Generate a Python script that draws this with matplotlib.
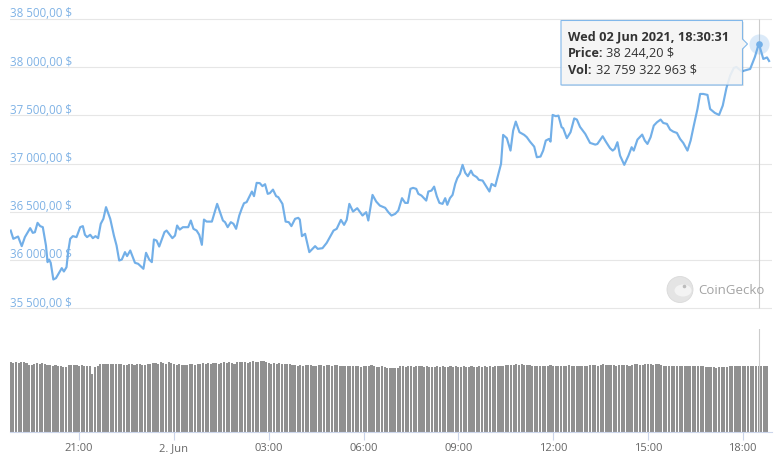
import matplotlib.pyplot as plt
import numpy as np
from matplotlib.patches import Polygon, Circle, Ellipse
from matplotlib.transforms import blended_transform_factory

plt.rcParams['font.family'] = ['Open Sans', 'DejaVu Sans']

W, H = 784, 477

# minutes after 1 Jun 2021 18:50
price_min = [
    0, 5, 14, 21, 27, 37, 42, 46, 51, 56,
    61, 67, 70, 73, 76, 81, 86, 97, 101, 106,
    109, 113, 118, 125, 132, 137, 141, 145, 151, 156,
    161, 166, 171, 176, 181, 189, 196, 201, 206, 211,
    217, 221, 227, 236, 242, 252, 257, 263, 268, 272,
    277, 282, 292, 296, 307, 312, 316, 321, 327, 337,
    342, 347, 353, 358, 363, 367, 372, 382, 392, 403,
    407, 412, 418, 423, 428, 434, 439, 443, 448, 458,
    462, 467, 473, 478, 483, 488, 492, 498, 504, 508,
    516, 522, 528, 533, 540, 546, 549, 553, 559, 567,
    578, 583, 592, 600, 606, 613, 619, 627, 633, 638,
    643, 650, 658, 668, 675, 679, 687, 694, 701, 711,
    717, 723, 730, 736, 743, 749, 754, 759, 764, 770,
    774, 780, 789, 793, 799, 804, 809, 814, 820, 825,
    829, 834, 839, 844, 848, 853, 858, 863, 868, 874,
    878, 885, 889, 896, 902, 909, 913, 920, 926, 931,
    935, 942, 949, 954, 959, 966, 975, 980, 986, 994,
    999, 1006, 1011, 1016, 1022, 1025, 1029, 1035, 1040, 1046,
    1049, 1056, 1063, 1070, 1075, 1081, 1091, 1100, 1110, 1114,
    1124, 1130, 1138, 1143, 1147, 1152, 1157, 1165, 1173, 1179,
    1183, 1190, 1199, 1204, 1209, 1215, 1221, 1227, 1234, 1239,
    1246, 1252, 1258, 1265, 1271, 1277, 1285, 1291, 1297, 1304,
    1309, 1315, 1323, 1328, 1337, 1345, 1352, 1359, 1366, 1373,
    1378, 1388, 1394, 1404, 1413, 1420.5, 1429, 1436, 1440,
]
price_usd = [
    36304, 36218, 36242, 36142, 36236, 36329, 36280, 36287, 36384, 36350,
    36339, 36148, 35976, 36003, 35969, 35796, 35810, 35914, 35879, 35924,
    36080, 36218, 36246, 36236, 36339, 36350, 36260, 36236, 36260, 36225,
    36246, 36225, 36374, 36426, 36547, 36426, 36252, 36149, 35993, 36003,
    36080, 36039, 36097, 35969, 35959, 35907, 36073, 36003, 35976, 36211,
    36200, 36138, 36288, 36304, 36225, 36252, 36356, 36314, 36339, 36339,
    36408, 36322, 36304, 36260, 36156, 36418, 36397, 36397, 36581, 36408,
    36391, 36339, 36391, 36374, 36322, 36460, 36536, 36588, 36599, 36709,
    36661, 36799, 36796, 36765, 36785, 36685, 36692, 36729, 36661, 36651,
    36581, 36397, 36391, 36350, 36426, 36436, 36418, 36246, 36270, 36080,
    36142, 36114, 36121, 36176, 36236, 36304, 36322, 36415, 36363, 36415,
    36581, 36501, 36536, 36460, 36495, 36408, 36674, 36605, 36563, 36540,
    36495, 36460, 36477, 36512, 36640, 36591, 36591, 36737, 36747, 36737,
    36685, 36667, 36615, 36709, 36719, 36760, 36661, 36591, 36581, 36640,
    36571, 36640, 36674, 36788, 36848, 36892, 36986, 36903, 36868, 36926,
    36882, 36858, 36830, 36823, 36771, 36709, 36788, 36765, 36892, 36996,
    37297, 37263, 37134, 37341, 37435, 37325, 37297, 37273, 37227, 37175,
    37065, 37072, 37134, 37238, 37255, 37227, 37504, 37491, 37497, 37377,
    37366, 37263, 37325, 37468, 37456, 37380, 37307, 37214, 37196, 37203,
    37283, 37227, 37159, 37134, 37152, 37221, 37082, 36986, 37082, 37169,
    37134, 37248, 37300, 37238, 37203, 37273, 37393, 37428, 37456, 37421,
    37411, 37352, 37331, 37317, 37255, 37214, 37134, 37238, 37393, 37566,
    37722, 37722, 37712, 37566, 37525, 37504, 37601, 37784, 37912, 37992,
    38002, 37955, 37966, 37981, 38106, 38244.2, 38085, 38101, 38064,
]

# 24h volume, billions $, one bar every 5 minutes
vol_bn = [
    34.7, 34.4, 34.7, 34.2, 34.5, 34.6, 34.3, 33.2, 33.3, 34.0, 34.2, 33.9,
    34.1, 33.6, 33.5, 33.2, 33.0, 33.3, 32.8, 32.6, 32.4, 32.4, 33.2, 33.1,
    33.2, 33.4, 33.0, 33.3, 32.8, 32.6, 32.7, 28.8, 32.5, 32.9, 33.7, 33.8,
    33.7, 33.8, 33.7, 33.6, 33.8, 33.7, 33.8, 33.5, 33.2, 33.6, 33.7, 33.5,
    33.6, 33.7, 33.5, 33.3, 33.6, 33.8, 34.2, 34.4, 34.0, 34.6, 34.3, 33.9,
    34.5, 34.2, 33.9, 33.4, 33.7, 33.2, 33.5, 33.2, 33.6, 33.8, 33.3, 33.6,
    33.9, 34.2, 34.0, 34.3, 33.8, 34.1, 34.2, 34.0, 34.3, 34.5, 34.2, 34.6,
    34.4, 34.0, 34.5, 34.6, 34.5, 34.7, 34.3, 34.8, 35.1, 34.6, 34.9, 35.0,
    35.0, 34.9, 34.3, 34.0, 34.1, 33.8, 34.1, 33.7, 33.8, 33.6, 33.7, 33.5,
    33.2, 33.0, 33.1, 32.9, 33.2, 33.3, 33.2, 32.8, 33.0, 33.2, 33.2, 32.9,
    33.2, 33.3, 32.7, 33.4, 33.1, 32.9, 32.7, 32.6, 32.9, 32.7, 32.8, 32.9,
    32.6, 32.4, 32.6, 32.6, 32.8, 33.1, 32.7, 32.2, 32.3, 32.6, 32.4, 32.0,
    31.9, 31.8, 31.8, 31.9, 32.6, 32.7, 32.5, 32.8, 32.6, 32.4, 32.7, 32.6,
    32.8, 32.5, 32.7, 32.4, 32.2, 32.5, 32.6, 32.4, 32.7, 32.5, 32.3, 32.6,
    32.4, 32.6, 32.5, 32.2, 32.6, 32.5, 32.4, 32.6, 32.5, 32.3, 32.6, 32.4,
    32.6, 32.5, 32.7, 32.3, 32.8, 33.0, 32.9, 32.7, 33.1, 33.3, 33.2, 33.5,
    33.6, 33.4, 33.7, 33.5, 33.4, 33.2, 33.0, 32.9, 32.8, 32.8, 33.0, 32.7,
    32.9, 33.1, 33.0, 32.8, 33.0, 32.9, 32.7, 32.9, 33.1, 32.8, 32.9, 32.7,
    32.8, 33.0, 32.7, 33.0, 33.1, 33.2, 33.3, 33.0, 33.4, 33.6, 33.1, 33.2,
    33.3, 33.2, 33.0, 33.2, 33.1, 33.3, 33.4, 33.0, 33.3, 33.6, 33.8, 33.1,
    33.5, 33.7, 33.8, 33.7, 33.4, 33.9, 33.7, 33.2, 32.9, 32.8, 33.0, 32.7,
    32.8, 32.7, 32.9, 32.6, 32.7, 32.8, 32.7, 32.9, 32.7, 32.6, 32.8, 32.6,
    32.4, 32.2, 32.3, 32.1, 32.0, 32.2, 32.1, 32.3, 32.2, 32.6, 32.7, 32.8,
    32.6, 32.7, 32.8, 32.7, 32.6, 32.7, 32.76, 32.7, 32.6, 32.7, 32.6, 32.8,
]
vol_min = np.arange(len(vol_bn)) * 5

y_ticks = [35500, 36000, 36500, 37000, 37500, 38000, 38500]
x_tick_min = [130, 310, 490, 670, 850, 1030, 1210, 1390]
x_tick_lab = ['21:00', '2. Jun', '03:00', '06:00', '09:00', '12:00', '15:00', '18:00']

hover_min = 1420.5
hover_price = 38244.20
hover_vol = 32759322963
hover_label = 'Wed 02 Jun 2021, 18:30:31'

line_c = '#72afe8'
xlim = (-1.3, 1445.5)


def box(left, top, right, bottom):
    return [left / W, 1 - bottom / H, (right - left) / W, (bottom - top) / H]


def money(v, dec):
    s = f'{v:,.{dec}f}'
    return s.replace(',', ' ').replace('.', ',') + ' $'


fig = plt.figure(figsize=(W / 100, H / 100), dpi=100)

# price pane
ax = fig.add_axes(box(10, 10, 772, 320))
ax.set_xlim(*xlim)
ax.set_ylim(38500 + 10 * 10.373, 35500 - 11 * 10.373)
ax.invert_yaxis()
for s in ax.spines.values():
    s.set_visible(False)
ax.set_xticks([])
ax.set_yticks([])
tr = blended_transform_factory(ax.transAxes, ax.transData)
for v in y_ticks:
    ax.axhline(v, color='#e6e6e6', lw=0.8, zorder=1)
    ax.annotate(money(v, 2), xy=(0, v), xycoords=tr, xytext=(0.5, 6),
                textcoords='offset pixels', va='center', ha='left',
                fontsize=8.3, color='#7fb2e5', zorder=2)
ax.vlines(hover_min, 35500, 38500, color='#cccccc', lw=0.8, zorder=2)
ax.plot(price_min, price_usd, color=line_c, lw=1.55, zorder=3,
        solid_joinstyle='round')
ax.plot([hover_min], [hover_price], 'o', ms=14.5, color=line_c, alpha=0.25,
        mec='none', zorder=4)
ax.plot([hover_min], [hover_price], 'o', ms=4.8, color=line_c, mec='none', zorder=5)

# volume pane
axv = fig.add_axes(box(10, 330, 772, 433))
axv.set_xlim(*xlim)
axv.set_ylim(0, 103 * 0.4964)
axv.bar(vol_min, vol_bn, width=4, color='#909090', linewidth=0, zorder=2)
axv.axvline(hover_min, color='#cccccc', lw=0.8, zorder=3)
for k in ['top', 'left', 'right']:
    axv.spines[k].set_visible(False)
axv.spines['bottom'].set_color('#ccd6eb')
axv.spines['bottom'].set_linewidth(0.8)
axv.set_yticks([])
axv.set_xticks(x_tick_min, x_tick_lab)
axv.tick_params(axis='x', length=6, width=0.8, color='#ccd6eb',
                labelcolor='#666666', labelsize=8, pad=1.5)

# tooltip
def P(x, y):
    return (x, H - y)

shadow = Polygon([P(562, 22.5), P(743.5, 22.5), P(743.5, 87), P(562, 87)],
                 closed=True, transform=None, facecolor='black', alpha=0.08,
                 edgecolor='none', zorder=8)
fig.patches.append(shadow)
tip = Polygon([P(561, 21.5), P(742.5, 21.5), P(742.5, 40), P(747.5, 45),
               P(742.5, 50), P(742.5, 86), P(561, 86)],
              closed=True, transform=None, facecolor='#f7f7f7', alpha=0.88,
              edgecolor=line_c, lw=0.8, zorder=9)
fig.patches.append(tip)
tx = 568 / W
fs = 9.2
fig.text(tx, 1 - 37 / H, hover_label, fontsize=fs, fontweight='bold',
         color='#333333', va='center', zorder=10)
fig.text(tx, 1 - 53.5 / H, 'Price:', fontsize=fs, fontweight='bold',
         color='#333333', va='center', zorder=10)
fig.text(606 / W, 1 - 53.5 / H, money(hover_price, 2), fontsize=fs,
         color='#333333', va='center', zorder=10)
fig.text(tx, 1 - 70 / H, 'Vol:', fontsize=fs, fontweight='bold',
         color='#333333', va='center', zorder=10)
fig.text(596 / W, 1 - 70 / H, money(hover_vol, 0), fontsize=fs,
         color='#333333', va='center', zorder=10)

# CoinGecko watermark
fig.patches.append(Circle(P(680, 290.5), 13, transform=None, facecolor='#e4e4e4',
                          edgecolor='#dadada', lw=0.6, zorder=6))
fig.patches.append(Ellipse(P(683, 291.5), 17, 12, transform=None,
                           facecolor='#f3f3f3', edgecolor='none', zorder=6))
fig.patches.append(Circle(P(684.5, 287.5), 1.8, transform=None,
                          facecolor='#bcbcbc', edgecolor='none', zorder=7))
fig.text(698 / W, 1 - 290.5 / H, 'CoinGecko', fontsize=9.5, color='#a3a3a3',
         va='center', ha='left', zorder=7)

fig.savefig('out.png', dpi=100)
